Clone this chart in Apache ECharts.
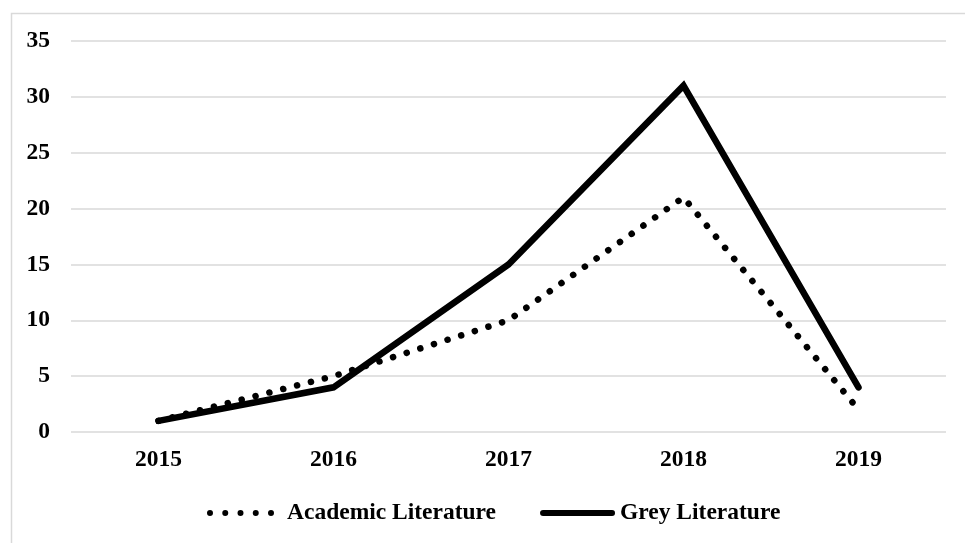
<!DOCTYPE html>
<html>
<head>
<meta charset="utf-8">
<style>
  html, body { margin: 0; padding: 0; background: #ffffff; }
  #chart { width: 965px; height: 543px; }
</style>
<script src="https://cdn.jsdelivr.net/npm/echarts@6/dist/echarts.min.js"></script>
</head>
<body>
<div id="chart"></div>
<script>
// Publications per year, by literature type
const years = ['2015', '2016', '2017', '2018', '2019'];
const academicLiterature = [1, 5, 10, 21, 2];
const greyLiterature = [1, 4, 15, 31, 4];
const yTicks = { min: 0, max: 35, interval: 5 };

const FONT = '"Liberation Serif", "Times New Roman", serif';
const labelStyle = { fontFamily: FONT, fontWeight: 'bold', fontSize: 23.5, color: '#000000' };

// Legend keys: a row of five round dots, and a thick round-capped bar.
// Both share a 75x6 box; the dotted key ends with an empty stub so its dots keep their spacing.
function dot(cx) {
  return 'M' + (cx - 3) + ',3 a3,3 0 1,0 6,0 a3,3 0 1,0 -6,0 Z ';
}
const dottedKey = 'path://' + [3, 18.25, 33.5, 48.75, 64].map(dot).join('') + 'M75,0 L75,6';
const solidKey = 'path://M3,0 L72,0 A3,3 0 0,1 72,6 L3,6 A3,3 0 0,1 3,0 Z';

const chart = echarts.init(document.getElementById('chart'), null, { renderer: 'canvas' });

chart.setOption({
  animation: false,
  backgroundColor: '#ffffff',
  graphic: [{
    type: 'rect',
    left: 9,
    top: 11,
    shape: { width: 990, height: 600 },
    style: { fill: 'none', stroke: '#d9d9d9', lineWidth: 1.5 },
    z: -10,
    silent: true
  }],
  grid: { left: 71, right: 19, top: 41, bottom: 111, containLabel: false },
  legend: {
    left: 202,
    top: 496,
    itemWidth: 75,
    itemHeight: 6,
    itemGap: 44,
    textStyle: labelStyle,
    data: [
      { name: 'Academic Literature', icon: dottedKey, itemStyle: { color: '#000000', borderWidth: 0 } },
      { name: 'Grey Literature', icon: solidKey, itemStyle: { color: '#000000', borderWidth: 0 } }
    ]
  },
  xAxis: {
    type: 'category',
    data: years,
    boundaryGap: true,
    axisLine: { show: false },
    axisTick: { show: false },
    axisLabel: Object.assign({ margin: 16 }, labelStyle)
  },
  yAxis: {
    type: 'value',
    min: yTicks.min,
    max: yTicks.max,
    interval: yTicks.interval,
    axisLine: { show: false },
    axisTick: { show: false },
    axisLabel: Object.assign({ margin: 21 }, labelStyle),
    splitLine: { lineStyle: { color: '#d9d9d9', width: 1.5 } }
  },
  series: [
    {
      name: 'Academic Literature',
      type: 'line',
      data: academicLiterature,
      symbol: 'none',
      showSymbol: false,
      color: '#000000',
      lineStyle: { color: '#000000', width: 6.5, type: [0.1, 14.2], cap: 'round', join: 'round' },
      z: 3
    },
    {
      name: 'Grey Literature',
      type: 'line',
      data: greyLiterature,
      symbol: 'none',
      showSymbol: false,
      color: '#000000',
      lineStyle: { color: '#000000', width: 6.5, type: 'solid', cap: 'round', join: 'miter' },
      z: 4
    }
  ]
});
</script>
</body>
</html>
